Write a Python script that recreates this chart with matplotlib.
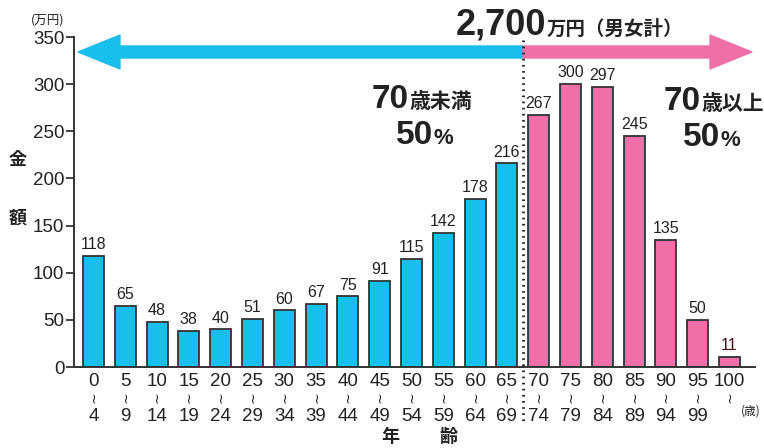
import matplotlib
matplotlib.use('Agg')
import matplotlib.pyplot as plt
from matplotlib.patches import Polygon
from matplotlib.lines import Line2D

# data
ages_lo = ['0', '5', '10', '15', '20', '25', '30', '35', '40', '45', '50',
           '55', '60', '65', '70', '75', '80', '85', '90', '95', '100']
ages_hi = ['4', '9', '14', '19', '24', '29', '34', '39', '44', '49', '54',
           '59', '64', '69', '74', '79', '84', '89', '94', '99', '']
amounts = [118, 65, 48, 38, 40, 51, 60, 67, 75, 91, 115,
           142, 178, 216, 267, 300, 297, 245, 135, 50, 11]
split = 14  # first index of 70+

W, H = 764, 448
CYAN = '#17bfef'
PINK = '#ef70a8'
DARK = '#222222'
NUM = ['Liberation Sans', 'DejaVu Sans', 'Noto Sans CJK JP']
JP = ['Noto Sans CJK JP', 'DejaVu Sans']

fig = plt.figure(figsize=(W / 100, H / 100), dpi=100)
ax_h = 367 - 37
ax = fig.add_axes([74 / W, (H - 367) / H, (755 - 74) / W, ax_h / H])

x = list(range(len(amounts)))
colors = [CYAN if i < split else PINK for i in x]
ax.bar(x, amounts, width=0.66, color=colors, edgecolor='#333333', linewidth=1.3)

for i, v in enumerate(amounts):
    c = '#4a0f14' if i == len(amounts) - 1 else DARK
    ax.text(i, v + 4, str(v), ha='center', va='bottom', fontsize=11.5,
            family=NUM, color=c)

ax.set_xlim(-0.61, 20.8)
ax.set_ylim(0, 350)
ax.set_yticks(range(0, 351, 50))
ax.set_yticklabels([str(t) for t in range(0, 351, 50)], fontsize=13.5, family=NUM, color=DARK)
ax.tick_params(axis='y', length=6, width=1.3, color='#333333', pad=1)
ax.set_xticks([])
for s in ['top', 'right']:
    ax.spines[s].set_visible(False)
for s in ['left', 'bottom']:
    ax.spines[s].set_color('#333333')
    ax.spines[s].set_linewidth(1.4)

# x tick labels: "lo / wave / hi"
tr = ax.get_xaxis_transform()
for i, (a, b) in enumerate(zip(ages_lo, ages_hi)):
    ax.text(i, -19 / ax_h, a, transform=tr, ha='center', va='baseline',
            fontsize=13.5, family=NUM, color=DARK, clip_on=False)
    ax.text(i + 0.02, -30 / ax_h, '~', transform=tr, ha='center', va='center',
            rotation=90, fontsize=10, family='DejaVu Sans', color=DARK, clip_on=False)
    if b:
        ax.text(i, -54 / ax_h, b, transform=tr, ha='center', va='baseline',
                fontsize=13.5, family=NUM, color=DARK, clip_on=False)


def px(xp, yp):
    return (xp / W, (H - yp) / H)


# double arrow
mid, yc = 523, 52
left_arrow = [px(78, yc), px(120, yc - 17), px(120, yc - 6), px(mid, yc - 6),
              px(mid, yc + 6), px(120, yc + 6), px(120, yc + 17)]
right_arrow = [px(752, yc), px(710, yc - 17), px(710, yc - 6), px(mid, yc - 6),
               px(mid, yc + 6), px(710, yc + 6), px(710, yc + 17)]
fig.patches.append(Polygon(left_arrow, closed=True, color=CYAN, transform=fig.transFigure))
fig.patches.append(Polygon(right_arrow, closed=True, color=PINK, transform=fig.transFigure))

# dotted divider
fig.lines.append(Line2D([mid / W, mid / W], [(H - 40) / H, (H - 425) / H],
                        transform=fig.transFigure, color=DARK, linewidth=2,
                        linestyle=(0, (0.6, 1.6)), zorder=5))

renderer = fig.canvas.get_renderer()


def put(parts, x0, y0):
    xp = x0
    for txt, size, fam in parts:
        t = fig.text(*px(xp, y0), txt, fontsize=size, fontweight='bold',
                     family=fam, color=DARK, va='baseline')
        xp += t.get_window_extent(renderer).width


put([('2,700', 26, NUM), ('万円（男女計）', 14, JP)], 456, 35)
put([('70', 24, NUM), ('歳未満', 15, JP)], 372, 108)
put([('50', 24, NUM), ('%', 16, NUM)], 396, 144)
put([('70', 24, NUM), ('歳以上', 15, JP)], 664, 110)
put([('50', 24, NUM), ('%', 16, NUM)], 683, 146)

# axis labels
fig.text(*px(31, 24), '(万円)', fontsize=9, family=JP, color=DARK)
for ch, (xx, yy) in [('金', (18, 160)), ('額', (18, 218)), ('年', (390, 436)), ('齢', (448, 436))]:
    fig.text(*px(xx, yy), ch, fontsize=13, fontweight='bold', family=JP, color=DARK,
             ha='center', va='center')
fig.text(*px(751, 411), '(歳)', fontsize=8.5, family=JP, color=DARK, ha='center', va='center')

fig.savefig('out.png', dpi=100)
